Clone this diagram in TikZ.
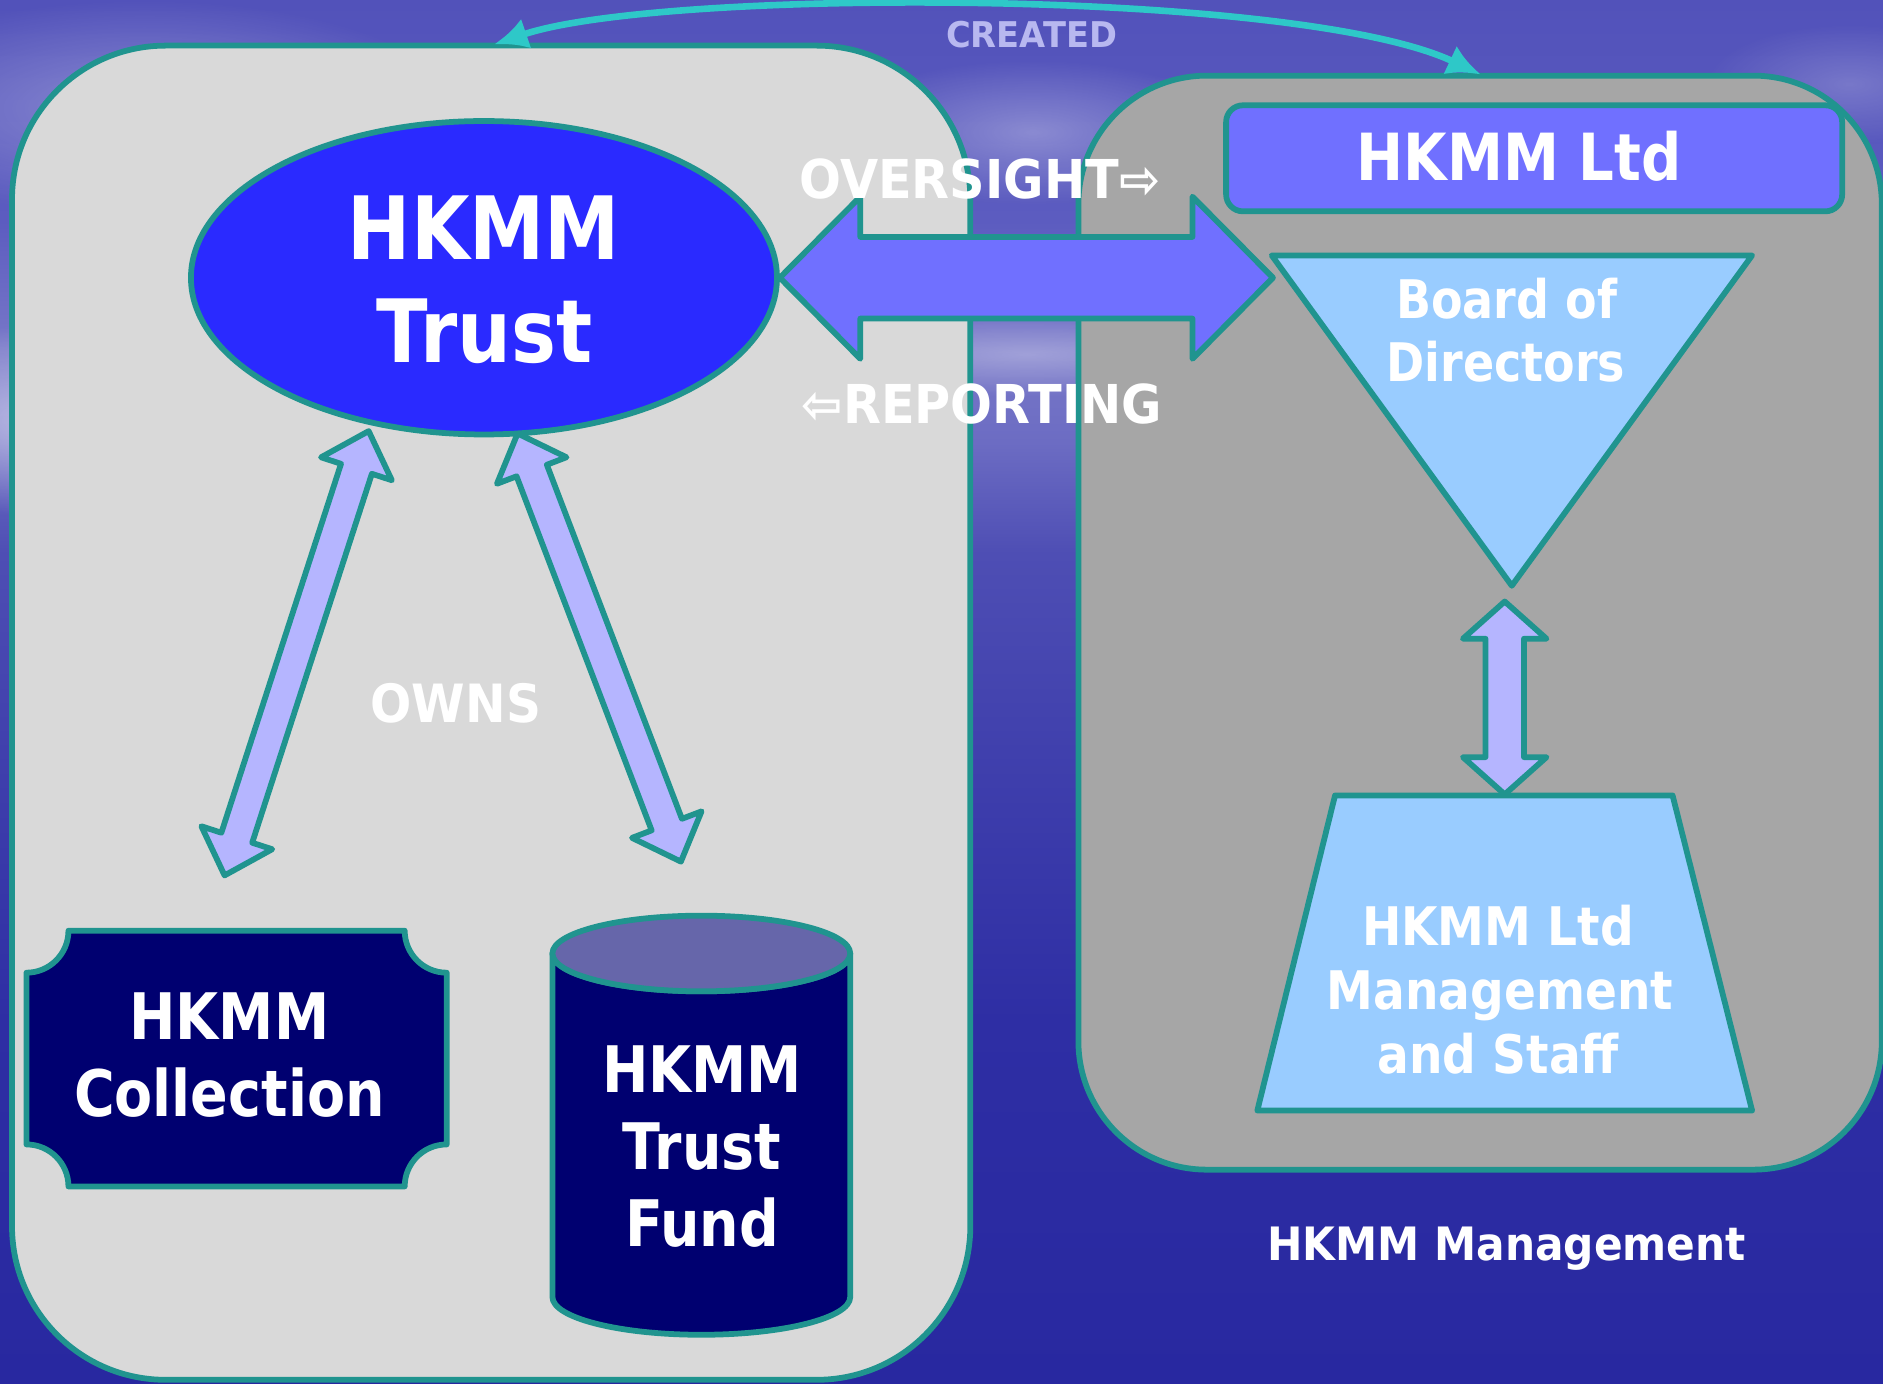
\documentclass[tikz,border=0pt]{standalone}
\usepackage{fontspec}
\usetikzlibrary{shapes.geometric,calc,arrows.meta,fadings}
\newfontfamily\fA{DejaVu Sans Bold}[FakeStretch=0.865]
\newfontfamily\fB{DejaVu Sans Bold}[FakeStretch=0.885]
\newfontfamily\fC{DejaVu Sans Bold}[FakeStretch=0.92]
\newfontfamily\fD{DejaVu Sans Bold}[FakeStretch=0.95]
\definecolor{tealc}{RGB}{32,148,143}
\definecolor{panelLc}{RGB}{217,217,217}
\definecolor{panelRc}{RGB}{166,166,166}
\definecolor{trustc}{RGB}{42,42,255}
\definecolor{bigarrowc}{RGB}{112,112,255}
\definecolor{lightbluec}{RGB}{153,204,255}
\definecolor{lavc}{RGB}{181,181,255}
\definecolor{navyc}{RGB}{0,0,112}
\definecolor{cyltopc}{RGB}{102,102,170}
\definecolor{arcc}{RGB}{46,200,200}
\definecolor{createdc}{RGB}{184,184,240}
\definecolor{bgA}{RGB}{82,82,186}
\definecolor{bgA2}{RGB}{92,92,192}
\definecolor{bgB}{RGB}{120,120,200}
\definecolor{bgB2}{RGB}{108,108,195}
\definecolor{bgC}{RGB}{78,78,180}
\definecolor{bgD}{RGB}{62,62,172}
\definecolor{bgE}{RGB}{46,46,164}
\definecolor{bgF}{RGB}{40,40,160}
\pgfdeclareverticalshading{bgshade}{100bp}{color(0bp)=(bgF); color(25bp)=(bgF); color(38.1bp)=(bgE); color(46.8bp)=(bgD); color(55bp)=(bgC); color(59bp)=(bgB2); color(62.4bp)=(bgB); color(67bp)=(bgA2); color(75bp)=(bgA); color(100bp)=(bgA)}
\tikzfading[name=softblob, inner color=transparent!0, outer color=transparent!100]
% double-headed block arrow: #1 style, #2 tip A, #3 tip B, #4 shaft half width, #5 head half width, #6 head length
\newcommand\blockarrow[6]{%
  \coordinate (ba1) at ($(#2)!#6!(#3)$);
  \coordinate (ba2) at ($(#3)!#6!(#2)$);
  \draw[#1] (#2) -- ($(ba1)!#5!90:(#3)$) -- ($(ba1)!#4!90:(#3)$)
    -- ($(ba2)!#4!-90:(#2)$) -- ($(ba2)!#5!-90:(#2)$) -- (#3)
    -- ($(ba2)!#5!90:(#2)$) -- ($(ba2)!#4!90:(#2)$)
    -- ($(ba1)!#4!-90:(#3)$) -- ($(ba1)!#5!-90:(#3)$) -- cycle;}
\begin{document}
\begin{tikzpicture}[x=0.1mm,y=-0.1mm,
  edge/.style={draw=tealc, line width=0.48mm, line join=round},
  txt/.style={text=white, inner sep=0pt, anchor=base},
  tA/.style={txt, font=\fA\fontsize{#1}{#1}\selectfont},
  tB/.style={txt, font=\fB\fontsize{#1}{#1}\selectfont},
  tC/.style={txt, font=\fC\fontsize{#1}{#1}\selectfont},
  tD/.style={txt, font=\fD\fontsize{#1}{#1}\selectfont},
  cloud/.style={fill=white, path fading=softblob}]
\useasboundingbox (0,0) rectangle (1568,1152);
\clip (0,0) rectangle (1568,1152);
% background
\shade[shading=bgshade] (0,0) rectangle (1568,1152);
\fill[cloud, opacity=0.55] (40,350) ellipse [x radius=170, y radius=80];
\fill[cloud, opacity=0.30] (120,90) ellipse [x radius=260, y radius=90];
\fill[cloud, opacity=0.30] (860,110) ellipse [x radius=170, y radius=60];
\fill[cloud, opacity=0.30] (855,295) ellipse [x radius=220, y radius=35];
\fill[cloud, opacity=0.20] (1540,70) ellipse [x radius=120, y radius=50];
% panels
\draw[edge, fill=panelLc, rounded corners=12.8mm] (10,38) rectangle (808,1149);
\draw[edge, fill=panelRc, rounded corners=10.7mm] (898,63) rectangle (1567,974);
% CREATED connector
\coordinate (crL) at (411.5,37);
\coordinate (crR) at (1233,62);
\draw[arcc, line width=0.55mm, {Latex[length=2.8mm,width=2.6mm]}-{Latex[length=2.8mm,width=2.6mm]}]
  (crL) .. controls (550,-10) and (1080,-10) .. (crR);
% trust ellipse
\node[ellipse, edge, fill=trustc, minimum width=48.8mm, minimum height=26.1mm, inner sep=0pt] (trust) at (403,231.3) {};
% oversight / reporting arrow
\coordinate (ovR) at (1060,231.3);
\blockarrow{edge, fill=bigarrowc}{trust.east}{ovR}{3.4mm}{6.75mm}{6.7mm}
% HKMM Ltd box
\node[edge, fill=bigarrowc, rounded corners=1.4mm, minimum width=51.3mm, minimum height=8.83mm, inner sep=0pt] (ltdbox) at (1277.5,131.85) {};
% board triangle
\draw[edge, fill=lightbluec] (1059,212.7) coordinate (bodL) -- (1459,212.7) coordinate (bodR) -- (1258.9,487.8) coordinate (bodApex) -- cycle;
% management trapezoid
\draw[edge, fill=lightbluec] (1111.7,662.4) -- (1392.8,662.4) -- (1459,924.8) -- (1047,924.8) -- cycle;
\coordinate (mgmtTop) at (1253,661.5);
% board <-> management arrow
\coordinate (vaT) at (1253,500.9);
\blockarrow{edge, fill=lavc}{vaT}{mgmtTop}{1.6mm}{3.48mm}{3.1mm}
% OWNS arrows
\coordinate (oa1) at (307,359);
\coordinate (oa2) at (187,729);
\coordinate (ob1) at (431,361);
\coordinate (ob2) at (567,717.5);
\blockarrow{edge, fill=lavc}{oa1}{oa2}{1.35mm}{3.1mm}{3.3mm}
\blockarrow{edge, fill=lavc}{ob1}{ob2}{1.35mm}{3.1mm}{3.3mm}
% collection plaque
\draw[edge, fill=navyc] (57,775) -- (337,775) arc[start angle=180, end angle=90, radius=35]
  -- (372,953) arc[start angle=270, end angle=180, radius=35]
  -- (57,988) arc[start angle=0, end angle=-90, radius=35]
  -- (22,810) arc[start angle=90, end angle=0, radius=35] -- cycle;
% trust fund cylinder
\draw[edge, fill=navyc] (460,794) -- (460,1080) arc[start angle=180, end angle=0, x radius=124, y radius=31.5]
  -- (708,794) arc[start angle=0, end angle=180, x radius=124, y radius=31.5] -- cycle;
\draw[edge, fill=cyltopc] (584,794) ellipse [x radius=124, y radius=31.5];
% texts
\node[tA=20.7pt] (trust1) at (403,216.5) {HKMM};
\node[tA=20.7pt] (trust2) at (403.6,302) {Trust};
\node[tA=15.2pt] (coll1) at (191,866) {HKMM};
\node[tA=15.2pt] (coll2) at (191,930) {Collection};
\node[tA=15.2pt] (fund1) at (584.6,910) {HKMM};
\node[tA=15.2pt] (fund2) at (584.6,974) {Trust};
\node[tA=15.2pt] (fund3) at (584.6,1038) {Fund};
\node[tA=15.4pt] (ltdtxt) at (1265,150) {HKMM Ltd};
\node[tA=12.6pt] (bod1) at (1254.6,265) {Board of};
\node[tA=12.6pt] (bod2) at (1254,318) {Directors};
\node[tB=12.6pt] (mg1) at (1247.5,787.6) {HKMM Ltd};
\node[tB=12.6pt] (mg2) at (1249,840.7) {Management};
\node[tB=12.6pt] (mg3) at (1247.5,893.8) {and Staff};
\node[tC=10.9pt] (hkmmmgmt) at (1254.6,1050) {HKMM Management};
\node[tC=12.5pt] (owns) at (379.6,602) {OWNS};
\node[tC=12.7pt, anchor=base west] (oversight) at (665,165) {OVERSIGHT⇨};
\node[tC=12.7pt, anchor=base west] (reporting) at (667,352.5) {⇦REPORTING};
\node[tD=8.4pt, text=createdc] (created) at (859,39.7) {CREATED};
\end{tikzpicture}
\end{document}
